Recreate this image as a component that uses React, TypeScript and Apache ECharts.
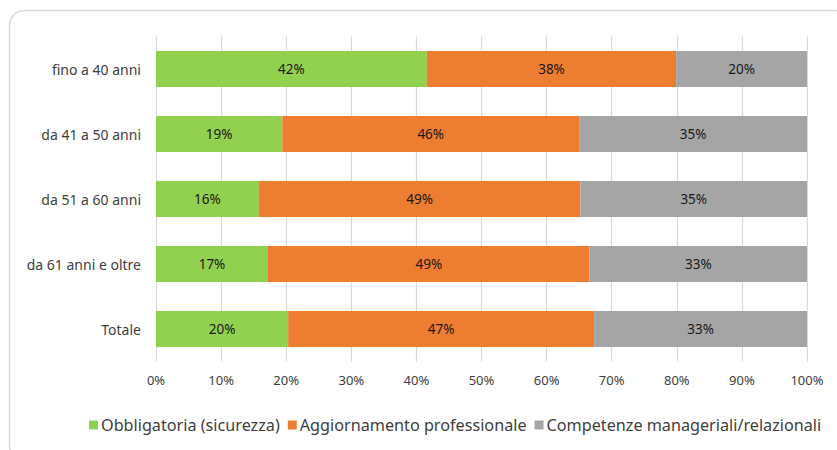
import React, { useEffect, useRef } from "react";
import * as echarts from "echarts";

const categories = ["fino a 40 anni", "da 41 a 50 anni", "da 51 a 60 anni", "da 61 anni e oltre", "Totale"];
const obbligatoria = [41.6, 19.4, 15.8, 17.2, 20.3];
const aggiornamento = [38.3, 45.6, 49.4, 49.4, 47.0];
const competenze = [20.1, 35.0, 34.8, 33.4, 32.7];
const seriesNames = ["Obbligatoria (sicurezza)", "Aggiornamento professionale", "Competenze manageriali/relazionali"];
const colors = ["#92D050", "#ED7D31", "#A5A5A5"];

const FONT = "Noto Sans";

export default function App() {
  const ref = useRef<HTMLDivElement>(null);
  useEffect(() => {
    if (!ref.current) return;
    const chart = echarts.init(ref.current, null, { renderer: "svg" });
    const datas = [obbligatoria, aggiornamento, competenze];
    chart.setOption({
      animation: false,
      color: colors,
      textStyle: { fontFamily: FONT },
      graphic: [
        {
          type: "rect",
          shape: { x: 9.5, y: 10.5, width: 840, height: 450, r: 15 },
          style: { fill: "none", stroke: "#D9D9D9", lineWidth: 1.5 },
          silent: true,
        },
      ],
      grid: { left: 156, right: 30, top: 36.5, height: 325, containLabel: false },
      xAxis: {
        type: "value",
        min: 0,
        max: 100,
        interval: 10,
        axisLabel: { formatter: "{value}%", color: "#404040", fontSize: 13, margin: 12, fontFamily: FONT },
        axisLine: { show: false },
        axisTick: { show: false },
        splitLine: { lineStyle: { color: "#D9D9D9", width: 1.2 } },
      },
      yAxis: {
        type: "category",
        data: categories,
        inverse: true,
        axisLine: { show: false },
        axisTick: { show: false },
        axisLabel: { color: "#404040", fontSize: 14, margin: 15, fontFamily: FONT },
      },
      legend: {
        top: 412,
        left: 84,
        itemWidth: 9,
        itemHeight: 9,
        itemGap: 8,
        icon: "rect",
        textStyle: { color: "#404040", fontSize: 16.2, fontFamily: FONT, padding: [0, 0, 0, -2] },
        data: seriesNames,
      },
      series: seriesNames.map((name, i) => ({
        name,
        type: "bar",
        stack: "total",
        barWidth: 36,
        data: datas[i],
        itemStyle: { color: colors[i] },
        label: {
          show: true,
          position: "inside",
          color: "#1a1a1a",
          fontSize: 13.5,
          fontFamily: FONT,
          formatter: (p: any) => Math.round(p.value) + "%",
        },
      })),
    });
    return () => chart.dispose();
  }, []);
  return (
    <div
      ref={ref}
      style={{ position: "fixed", left: 0, top: 0, width: 837, height: 450, background: "#fff" }}
    />
  );
}
